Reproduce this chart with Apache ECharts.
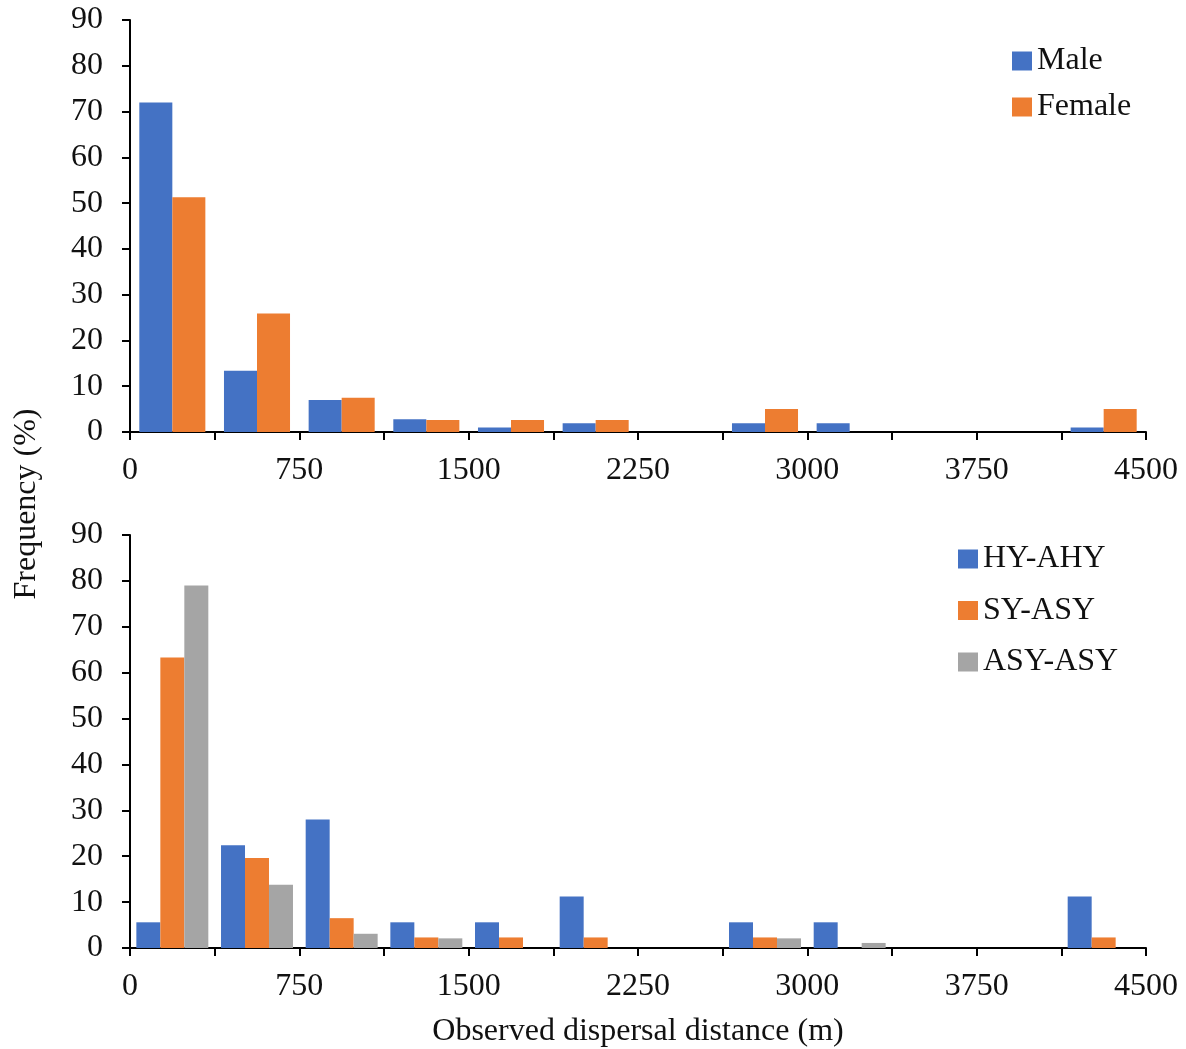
<!DOCTYPE html>
<html>
<head>
<meta charset="utf-8">
<script src="https://cdn.jsdelivr.net/npm/echarts@6/dist/echarts.min.js"></script>
<style>
  html, body { margin: 0; padding: 0; background: #ffffff; }
  #chart { width: 1186px; height: 1049px; }
</style>
</head>
<body>
<div id="chart"></div>
<script>
// Distance bins, 375 m wide
const distanceBins = ['0-375', '375-750', '750-1125', '1125-1500', '1500-1875', '1875-2250',
  '2250-2625', '2625-3000', '3000-3375', '3375-3750', '3750-4125', '4125-4500'];

// Labelled distances on the x axis
const distanceTickLabels = [0, 750, 1500, 2250, 3000, 3750, 4500];

// Frequency (%) by sex
const maleFreq   = [72.0, 13.4, 7.0, 2.8, 1.0, 1.9, 0, 1.9, 1.9, 0, 0, 1.0];
const femaleFreq = [51.3, 25.9, 7.5, 2.6, 2.6, 2.6, 0, 5.0, 0, 0, 0, 5.0];

// Frequency (%) by age class
const hyAhyFreq  = [5.6, 22.4, 28.0, 5.6, 5.6, 11.2, 0, 5.6, 5.6, 0, 0, 11.2];
const syAsyFreq  = [63.3, 19.6, 6.5, 2.3, 2.3, 2.3, 0, 2.3, 0, 0, 0, 2.3];
const asyAsyFreq = [79.0, 13.8, 3.1, 2.1, 0, 0, 0, 2.1, 1.1, 0, 0, 0];

const FONT = 'Liberation Serif, Times New Roman, serif';
const INK = '#111111';
const BLUE = '#4472C4', ORANGE = '#ED7D31', GREY = '#A5A5A5';

const chart = echarts.init(document.getElementById('chart'));

function distanceAxis(gridIndex, withName) {
  const ax = {
    type: 'value', gridIndex: gridIndex, min: 0, max: 4500, interval: 375,
    position: 'bottom',
    axisLine: { show: true, onZero: false, lineStyle: { color: '#000', width: 2 } },
    axisTick: { show: true, inside: false, length: 8, lineStyle: { color: '#000', width: 2 } },
    splitLine: { show: false },
    axisLabel: {
      margin: 23, color: INK, fontFamily: FONT, fontSize: 32,
      showMinLabel: true, showMaxLabel: true, hideOverlap: false,
      formatter: function (v) { return distanceTickLabels.indexOf(v) >= 0 ? String(v) : ''; }
    }
  };
  if (withName) {
    ax.name = 'Observed dispersal distance (m)';
    ax.nameLocation = 'middle';
    ax.nameGap = 68;
    ax.nameTextStyle = { color: INK, fontFamily: FONT, fontSize: 32 };
  }
  return ax;
}

function binAxis(gridIndex) {
  return {
    type: 'category', gridIndex: gridIndex, data: distanceBins, show: false,
    boundaryGap: true
  };
}

function freqAxis(gridIndex) {
  return {
    type: 'value', gridIndex: gridIndex, min: 0, max: 90, interval: 10,
    axisLine: { show: true, lineStyle: { color: '#000', width: 2 } },
    axisTick: { show: true, inside: false, length: 8, lineStyle: { color: '#000', width: 2 } },
    splitLine: { show: false },
    axisLabel: { margin: 27, color: INK, fontFamily: FONT, fontSize: 32 }
  };
}

const legendText = { color: INK, fontFamily: FONT, fontSize: 32, lineHeight: 32 };

chart.setOption({
  animation: false,
  backgroundColor: '#ffffff',
  grid: [
    { left: 130, right: 40, top: 20, height: 412 },
    { left: 130, right: 40, top: 535, height: 413 }
  ],
  xAxis: [distanceAxis(0, false), binAxis(0), distanceAxis(1, true), binAxis(1)],
  yAxis: [freqAxis(0), freqAxis(1)],
  legend: [
    {
      data: ['Male', 'Female'], orient: 'vertical', left: 1012, top: 45,
      itemWidth: 20, itemHeight: 19, itemGap: 14, icon: 'rect', padding: 0,
      textStyle: legendText
    },
    {
      data: ['HY-AHY', 'SY-ASY', 'ASY-ASY'], orient: 'vertical', left: 958, top: 543,
      itemWidth: 20, itemHeight: 19, itemGap: 19.5, icon: 'rect', padding: 0,
      textStyle: legendText
    }
  ],
  graphic: [{
    type: 'text', x: 27, y: 504, rotation: Math.PI / 2,
    style: {
      text: 'Frequency (%)', fill: INK, font: '32px ' + FONT,
      align: 'center', verticalAlign: 'middle'
    }
  }],
  series: [
    { name: 'Male', type: 'bar', xAxisIndex: 1, yAxisIndex: 0, data: maleFreq,
      itemStyle: { color: BLUE }, barGap: '0%', barCategoryGap: '22%' },
    { name: 'Female', type: 'bar', xAxisIndex: 1, yAxisIndex: 0, data: femaleFreq,
      itemStyle: { color: ORANGE }, barGap: '0%', barCategoryGap: '22%' },
    { name: 'HY-AHY', type: 'bar', xAxisIndex: 3, yAxisIndex: 1, data: hyAhyFreq,
      itemStyle: { color: BLUE }, barGap: '0%', barCategoryGap: '15%' },
    { name: 'SY-ASY', type: 'bar', xAxisIndex: 3, yAxisIndex: 1, data: syAsyFreq,
      itemStyle: { color: ORANGE }, barGap: '0%', barCategoryGap: '15%' },
    { name: 'ASY-ASY', type: 'bar', xAxisIndex: 3, yAxisIndex: 1, data: asyAsyFreq,
      itemStyle: { color: GREY }, barGap: '0%', barCategoryGap: '15%' }
  ]
});
</script>
</body>
</html>
